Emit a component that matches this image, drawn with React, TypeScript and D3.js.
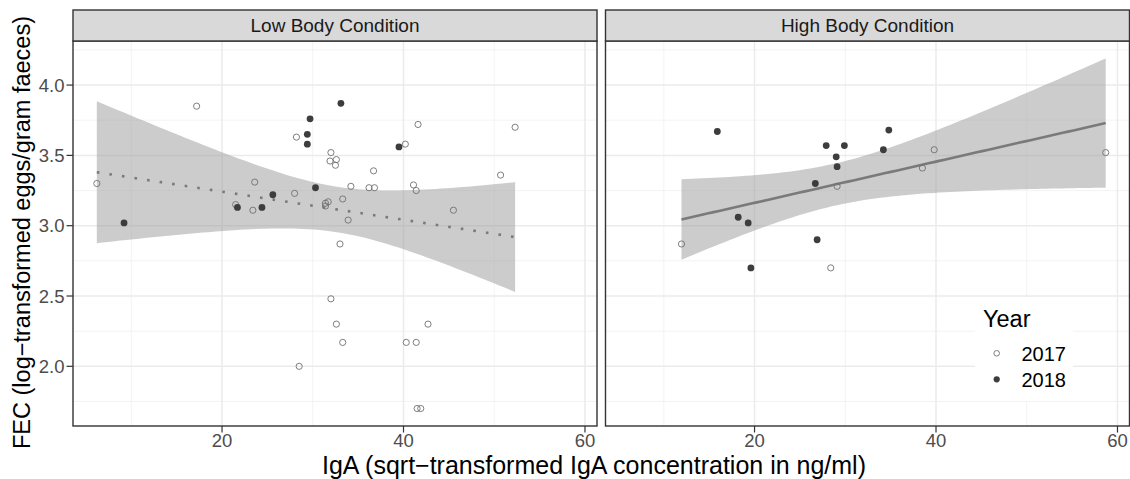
import React from 'react';
import * as d3 from 'd3';

// ---- Data ----
const panels = ['Low Body Condition', 'High Body Condition'];
const years = ['2017', '2018'];

const lowIgA2017 = [6.2, 17.2, 21.5, 23.4, 23.6, 28.0, 28.2, 28.5, 31.4, 31.7, 31.4, 33.3, 32.0, 31.9, 32.6, 32.5, 33.0, 32.0, 32.6, 33.3, 33.9, 34.2, 36.2, 36.8, 36.7, 40.2, 40.3, 41.1, 41.4, 41.4, 41.5, 41.9, 41.6, 42.7, 45.5, 50.7, 52.3];
const lowFEC2017 = [3.30, 3.85, 3.15, 3.11, 3.31, 3.23, 3.63, 2.00, 3.16, 3.17, 3.14, 3.19, 3.52, 3.46, 3.47, 3.43, 2.87, 2.48, 2.30, 2.17, 3.04, 3.28, 3.27, 3.27, 3.39, 3.58, 2.17, 3.29, 3.25, 2.17, 1.70, 1.70, 3.72, 2.30, 3.11, 3.36, 3.70];
const lowIgA2018 = [9.2, 21.7, 24.4, 25.6, 29.4, 29.4, 29.7, 30.3, 33.1, 39.5];
const lowFEC2018 = [3.02, 3.13, 3.13, 3.22, 3.58, 3.65, 3.76, 3.27, 3.87, 3.56];

const highIgA2017 = [11.95, 28.4, 29.1, 38.5, 39.8, 58.7];
const highFEC2017 = [2.87, 2.70, 3.28, 3.41, 3.54, 3.52];
const highIgA2018 = [15.9, 18.2, 19.3, 19.6, 26.7, 26.9, 27.9, 29.0, 29.1, 29.9, 34.2, 34.8];
const highFEC2018 = [3.67, 3.06, 3.02, 2.70, 3.30, 2.90, 3.57, 3.49, 3.42, 3.57, 3.54, 3.68];

const xTicks = [20, 40, 60];
const xMinor = [10, 30, 50];
const yTicks = [2.0, 2.5, 3.0, 3.5, 4.0];
const yMinor = [1.75, 2.25, 2.75, 3.25, 3.75, 4.25];

const xTitle = 'IgA (sqrt\u2212transformed IgA concentration in ng/ml)';
const yTitle = 'FEC (log\u2212transformed eggs/gram faeces)';

// ---- helpers ----
type Pt = { x: number; y: number; year: string };

function tQuantile975(df: number) {
  const z = 1.959963985;
  const g1 = (z ** 3 + z) / 4;
  const g2 = (5 * z ** 5 + 16 * z ** 3 + 3 * z) / 96;
  const g3 = (3 * z ** 7 + 19 * z ** 5 + 17 * z ** 3 - 15 * z) / 384;
  const g4 = (79 * z ** 9 + 776 * z ** 7 + 1482 * z ** 5 - 1920 * z ** 3 - 945 * z) / 92160;
  return z + g1 / df + g2 / df ** 2 + g3 / df ** 3 + g4 / df ** 4;
}

function lmBand(pts: Pt[]) {
  const n = pts.length;
  const mx = d3.mean(pts, (p) => p.x)!;
  const my = d3.mean(pts, (p) => p.y)!;
  let sxx = 0, sxy = 0;
  pts.forEach((p) => { sxx += (p.x - mx) ** 2; sxy += (p.x - mx) * (p.y - my); });
  const b = sxy / sxx;
  const a = my - b * mx;
  let sse = 0;
  pts.forEach((p) => { sse += (p.y - a - b * p.x) ** 2; });
  const s = Math.sqrt(sse / (n - 2));
  const t = tQuantile975(n - 2);
  const [x0, x1] = d3.extent(pts, (p) => p.x) as [number, number];
  const out: { x: number; fit: number; lo: number; hi: number }[] = [];
  const N = 80;
  for (let i = 0; i < N; i++) {
    const x = x0 + ((x1 - x0) * i) / (N - 1);
    const fit = a + b * x;
    const se = s * Math.sqrt(1 / n + (x - mx) ** 2 / sxx);
    out.push({ x, fit, lo: fit - t * se, hi: fit + t * se });
  }
  return out;
}

function zipPts(xs: number[], ys: number[], year: string): Pt[] {
  return xs.map((x, i) => ({ x, y: ys[i], year }));
}

const panelData: Pt[][] = [
  [...zipPts(lowIgA2017, lowFEC2017, years[0]), ...zipPts(lowIgA2018, lowFEC2018, years[1])],
  [...zipPts(highIgA2017, highFEC2017, years[0]), ...zipPts(highIgA2018, highFEC2018, years[1])],
];
const bands = panelData.map(lmBand);

// ---- layout ----
const W = 1130, H = 479;
const panelTop = 41, panelBottom = 426;
const stripTop = 10;
const panelX = [[73, 597], [605.5, 1129.5]];

const allX = panelData.flat().map((p) => p.x);
const allY = [
  ...panelData.flat().map((p) => p.y),
  ...bands.flat().map((b) => b.lo),
  ...bands.flat().map((b) => b.hi),
];
const xe = d3.extent(allX) as [number, number];
const ye = d3.extent(allY) as [number, number];
const xPad = (xe[1] - xe[0]) * 0.05;
const yPad = (ye[1] - ye[0]) * 0.05;
const xDomain = [xe[0] - xPad, xe[1] + xPad];
const yDomain = [ye[0] - yPad, ye[1] + yPad];

const yScale = d3.scaleLinear().domain(yDomain).range([panelBottom, panelTop]);

const FONT = "'Liberation Sans', Arial, Helvetica, sans-serif";

export default function App() {
  return (
    <svg width={W} height={H} style={{ position: 'absolute', left: 0, top: 0, background: '#fff' }} fontFamily={FONT}>
      <rect x={0} y={0} width={W} height={H} fill="#fff" />
      {panels.map((name, pi) => {
        const [px0, px1] = panelX[pi];
        const xScale = d3.scaleLinear().domain(xDomain).range([px0, px1]);
        const band = bands[pi];
        const area = d3.area<any>().x((d) => xScale(d.x)).y0((d) => yScale(d.lo)).y1((d) => yScale(d.hi));
        const line = d3.line<any>().x((d) => xScale(d.x)).y((d) => yScale(d.fit));
        return (
          <g key={name}>
            <rect x={px0} y={panelTop} width={px1 - px0} height={panelBottom - panelTop} fill="#fff" />
            {/* minor grid */}
            {xMinor.filter((v) => v > xDomain[0] && v < xDomain[1]).map((v) => (
              <line key={'xm' + v} x1={xScale(v)} x2={xScale(v)} y1={panelTop} y2={panelBottom} stroke="#f0f0f0" strokeWidth={0.8} />
            ))}
            {yMinor.filter((v) => v > yDomain[0] && v < yDomain[1]).map((v) => (
              <line key={'ym' + v} x1={px0} x2={px1} y1={yScale(v)} y2={yScale(v)} stroke="#f0f0f0" strokeWidth={0.8} />
            ))}
            {/* major grid */}
            {xTicks.map((v) => (
              <line key={'xg' + v} x1={xScale(v)} x2={xScale(v)} y1={panelTop} y2={panelBottom} stroke="#ebebeb" strokeWidth={1.5} />
            ))}
            {yTicks.map((v) => (
              <line key={'yg' + v} x1={px0} x2={px1} y1={yScale(v)} y2={yScale(v)} stroke="#ebebeb" strokeWidth={1.5} />
            ))}
            {/* ribbon + fit */}
            <path d={area(band)!} fill="#999999" fillOpacity={0.5} />
            <path
              d={line(band)!}
              fill="none"
              stroke="#7a7a7a"
              strokeWidth={2.6}
              strokeDasharray={pi === 0 ? '2.6 10.1' : undefined}
            />
            {/* points */}
            {panelData[pi].map((p, i) =>
              p.year === years[0] ? (
                <circle key={i} cx={xScale(p.x)} cy={yScale(p.y)} r={3.1} fill="none" stroke="#707070" strokeWidth={0.9} />
              ) : (
                <circle key={i} cx={xScale(p.x)} cy={yScale(p.y)} r={3.4} fill="#3d3d3d" />
              )
            )}
            {/* border */}
            <rect x={px0} y={panelTop} width={px1 - px0} height={panelBottom - panelTop} fill="none" stroke="#333" strokeWidth={1.4} />
            {/* strip */}
            <rect x={px0} y={stripTop} width={px1 - px0} height={panelTop - stripTop} fill="#d9d9d9" stroke="#333" strokeWidth={1.4} />
            <text x={(px0 + px1) / 2} y={(stripTop + panelTop) / 2 + 6.6} textAnchor="middle" fontSize={19} fill="#1a1a1a">
              {name}
            </text>
            {/* x axis */}
            {xTicks.map((v) => (
              <g key={'xt' + v}>
                <line x1={xScale(v)} x2={xScale(v)} y1={panelBottom} y2={panelBottom + 6.5} stroke="#333" strokeWidth={1.2} />
                <text x={xScale(v)} y={panelBottom + 21} textAnchor="middle" fontSize={18.5} fill="#4d4d4d">
                  {v}
                </text>
              </g>
            ))}
            {/* y axis (left panel only) */}
            {pi === 0 &&
              yTicks.map((v) => (
                <g key={'yt' + v}>
                  <line x1={px0 - 6.5} x2={px0} y1={yScale(v)} y2={yScale(v)} stroke="#333" strokeWidth={1.2} />
                  <text x={px0 - 8.5} y={yScale(v) + 6.6} textAnchor="end" fontSize={18.5} fill="#4d4d4d">
                    {v.toFixed(1)}
                  </text>
                </g>
              ))}
          </g>
        );
      })}
      {/* axis titles */}
      <text x={594} y={474} textAnchor="middle" fontSize={25} fill="#000">
        {xTitle}
      </text>
      <text
        transform={`translate(30, ${(panelTop + panelBottom) / 2 - 1}) rotate(-90)`}
        textAnchor="middle"
        fontSize={23.5}
        fill="#000"
      >
        {yTitle}
      </text>
      {/* legend */}
      <g>
        <rect x={975} y={297} width={98} height={104} fill="#fff" />
        <text x={983} y={327} fontSize={23.5} fill="#000">Year</text>
        <circle cx={996.7} cy={353.3} r={2.8} fill="none" stroke="#707070" strokeWidth={0.9} />
        <text x={1021.5} y={361} fontSize={20} fill="#000">{years[0]}</text>
        <circle cx={996.7} cy={379.3} r={3.1} fill="#3d3d3d" />
        <text x={1021.5} y={387} fontSize={20} fill="#000">{years[1]}</text>
      </g>
    </svg>
  );
}
